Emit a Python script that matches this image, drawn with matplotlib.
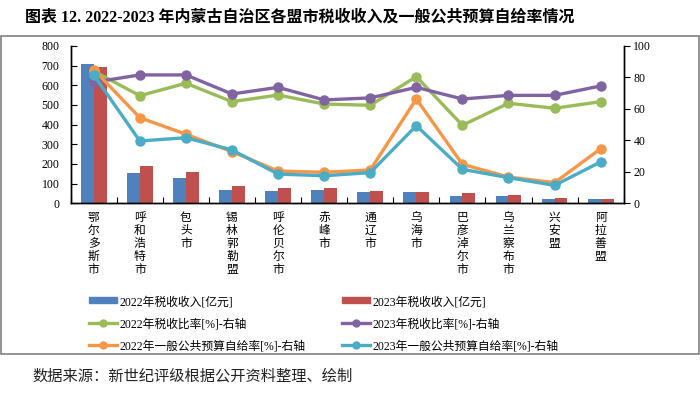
import numpy as np
import matplotlib.pyplot as plt
from matplotlib.patches import Rectangle
from matplotlib.lines import Line2D
from matplotlib.patches import Patch

plt.rcParams['font.family'] = ['Liberation Serif', 'Noto Sans CJK SC', 'DejaVu Sans']

# 各盟市
cities = ["鄂尔多斯市", "呼和浩特市", "包头市", "锡林郭勒盟", "呼伦贝尔市", "赤峰市",
          "通辽市", "乌海市", "巴彦淖尔市", "乌兰察布市", "兴安盟", "阿拉善盟"]

# 税收收入[亿元]
tax_2022 = [707, 154, 129, 68, 64, 69, 55, 59, 36, 36, 20, 20]
tax_2023 = [695, 191, 159, 86, 78, 76, 65, 59, 51, 44, 25, 20]

# 税收比率[%]
tax_ratio_2022 = [84, 68.4, 76.3, 64.6, 68.8, 63.1, 62.3, 80.5, 49.6, 63.6, 60.4, 64.6]
tax_ratio_2023 = [77, 81.6, 81.6, 69.5, 73.7, 65.7, 67.0, 73.7, 66.3, 68.6, 68.6, 74.6]

# 一般公共预算自给率[%]
self_2022 = [85, 54.4, 43.9, 32.8, 20.5, 19.7, 21.2, 66.3, 24.8, 16.7, 13.1, 34.7]
self_2023 = [81.6, 39.6, 41.7, 33.9, 18.6, 17.5, 19.5, 49.3, 21.6, 16.3, 11.4, 26.3]

c_blue, c_red = "#4F81BD", "#C0504D"
c_green, c_purple, c_orange, c_cyan = "#9BBB59", "#8064A2", "#F79646", "#4BACC6"

fig = plt.figure(figsize=(7, 3.93), dpi=100)
ax = fig.add_axes([0.101, 0.4827, 0.79, 0.4003])
ax2 = ax.twinx()

x = np.arange(len(cities))
w = 0.28
ax.bar(x - w / 2, tax_2022, w, color=c_blue, zorder=2)
ax.bar(x + w / 2, tax_2023, w, color=c_red, zorder=2)

lw, ms = 2.4, 6.5
ax2.plot(x, tax_ratio_2022, color=c_green, lw=lw, marker='o', ms=ms)
ax2.plot(x, tax_ratio_2023, color=c_purple, lw=lw, marker='o', ms=ms)
ax2.plot(x, self_2022, color=c_orange, lw=lw, marker='o', ms=ms)
ax2.plot(x, self_2023, color=c_cyan, lw=lw, marker='o', ms=ms)

ax.set_xlim(-0.5, len(cities) - 0.5)
ax.set_ylim(0, 800)
ax.set_yticks(np.arange(0, 801, 100))
ax2.set_ylim(0, 100)
ax2.set_yticks(np.arange(0, 101, 20))

ax.set_xticks(x)
ax.set_xticklabels(["\n".join(c) for c in cities], fontsize=8.5, linespacing=1.12, va='top')
ax.set_xticks(np.arange(-0.5, len(cities), 1), minor=True)
ax.tick_params(axis='x', which='major', length=0, pad=6)
ax.tick_params(axis='x', which='minor', direction='in', length=4, width=0.8)
ax.tick_params(axis='y', direction='in', length=4, width=0.8, labelsize=8.5, pad=8)
ax2.tick_params(axis='y', direction='out', length=4, width=0.8, labelsize=8.5, pad=3)

for a in (ax, ax2):
    a.spines['top'].set_visible(False)
    for s in ('left', 'right', 'bottom'):
        a.spines[s].set_linewidth(1.0)
ax.set_zorder(1)
ax2.set_zorder(2)
ax2.patch.set_visible(False)

handles = [
    Patch(color=c_blue, label="2022年税收收入[亿元]"),
    Line2D([], [], color=c_green, lw=lw, marker='o', ms=5, label="2022年税收比率[%]-右轴"),
    Line2D([], [], color=c_orange, lw=lw, marker='o', ms=5, label="2022年一般公共预算自给率[%]-右轴"),
    Patch(color=c_red, label="2023年税收收入[亿元]"),
    Line2D([], [], color=c_purple, lw=lw, marker='o', ms=5, label="2023年税收比率[%]-右轴"),
    Line2D([], [], color=c_cyan, lw=lw, marker='o', ms=5, label="2023年一般公共预算自给率[%]-右轴"),
]
leg = fig.legend(handles=handles, ncol=2, frameon=False, fontsize=8.5,
                 loc='upper left', bbox_to_anchor=(0.12, 0.258),
                 handlelength=2.4, handletextpad=0.2, columnspacing=3.1,
                 labelspacing=0.85, borderaxespad=0)
for p in leg.get_patches():
    p.set_height(4)
    p.set_y(2)

fig.text(0.036, 0.975, "图表 12. 2022-2023 年内蒙古自治区各盟市税收收入及一般公共预算自给率情况",
         fontsize=11.5, fontweight='bold', ha='left', va='top')
fig.text(0.046, 0.042, "数据来源：新世纪评级根据公开资料整理、绘制", fontsize=11,
         ha='left', va='center', color='#222222')

fig.patches.append(Rectangle((1 / 700, 1 - 354 / 393), 698 / 700, 318 / 393,
                             transform=fig.transFigure, fill=False,
                             edgecolor='#7f7f7f', lw=1.2))

fig.savefig("out.png", dpi=100)
